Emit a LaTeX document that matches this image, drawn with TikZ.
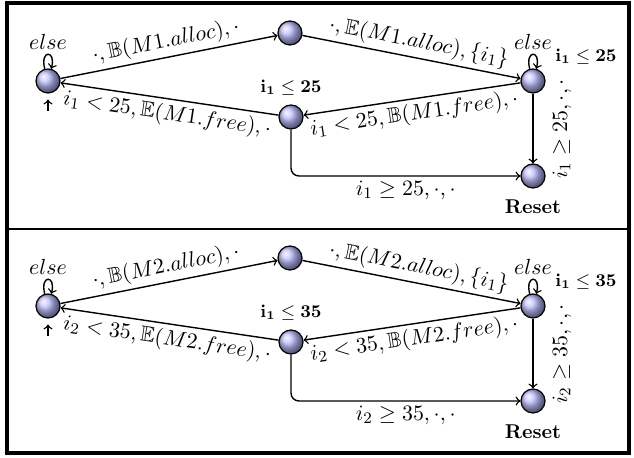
\documentclass[tikz,border=0pt]{standalone}
\usepackage{amssymb}
\tikzset{
  x=0.5pt, y=-0.5pt,
  ballstate/.style={circle, draw=black, line width=0.6pt, shading=ball,
    ball color=blue!25!white, minimum size=12pt, inner sep=0pt},
  conn/.style={->, line width=0.7pt},
  lbl/.style={inner sep=2pt, font=\fontsize{10.8}{13}\selectfont},
  guard/.style={font=\small},
  selfloop/.style={loop above, min distance=3.5mm, looseness=7},
}
% One automaton: #1 name suffix, #2 vertical offset, #3 memory block,
% #4 counter, #5 bound
\newcommand{\memorypanel}[5]{%
\begin{scope}[shift={(0,#2)}]
  \node[ballstate] (A#1) at (48,81) {};
  \node[ballstate] (B#1) at (290,33) {};
  \node[ballstate] (C#1) at (291,117) {};
  \node[ballstate] (D#1) at (533,81) {};
  \node[ballstate] (E#1) at (533,176) {};
  \coordinate (I#1) at (48,111);
  \draw[conn, shorten >=3pt] (I#1) -- (A#1);
  \draw[conn] (A#1) edge[selfloop] node[above, lbl] {$else$} (A#1);
  \draw[conn] (D#1) edge[selfloop] node[above, lbl] {$else$} (D#1);
  \draw[conn] (A#1) -- node[sloped, above, lbl] {$\cdot,\mathbb{B}(#3.alloc),\cdot$} (B#1);
  \draw[conn] (B#1) -- node[sloped, above, lbl, pos=0.52] {$\cdot,\mathbb{E}(#3.alloc),\{i_1\}$} (D#1);
  \draw[conn] (D#1) -- node[sloped, below, lbl] {$#4 < #5,\mathbb{B}(#3.free),\cdot$} (C#1);
  \draw[conn] (C#1) -- node[sloped, below, lbl] {$#4 < #5,\mathbb{E}(#3.free),\cdot$} (A#1);
  \draw[conn, rounded corners=4pt] (C#1) |- node[pos=0.75, below, lbl] {$#4 \geq #5,\cdot,\cdot$} (E#1);
  \draw[conn] (D#1) -- (E#1);
  \node[lbl, rotate=90] (V#1) at (562,129) {$#4 \geq #5,\cdot,\cdot$};
  \node[guard] (GC#1) at (291,88) {$\mathbf{i_1 \leq #5}$};
  \node[guard] (GD#1) at (586,57) {$\mathbf{i_1 \leq #5}$};
  \node (R#1) at (533,207) {\textbf{Reset}};
\end{scope}}
\begin{document}
\begin{tikzpicture}
  \useasboundingbox (0,0) rectangle (634,458);
  \draw[line width=2pt] (7,3) rectangle (629,453);
  \draw[line width=1.2pt] (7,229) -- (629,229);
  \memorypanel{1}{0}{M1}{i_1}{25}
  \memorypanel{2}{225}{M2}{i_2}{35}
\end{tikzpicture}
\end{document}
